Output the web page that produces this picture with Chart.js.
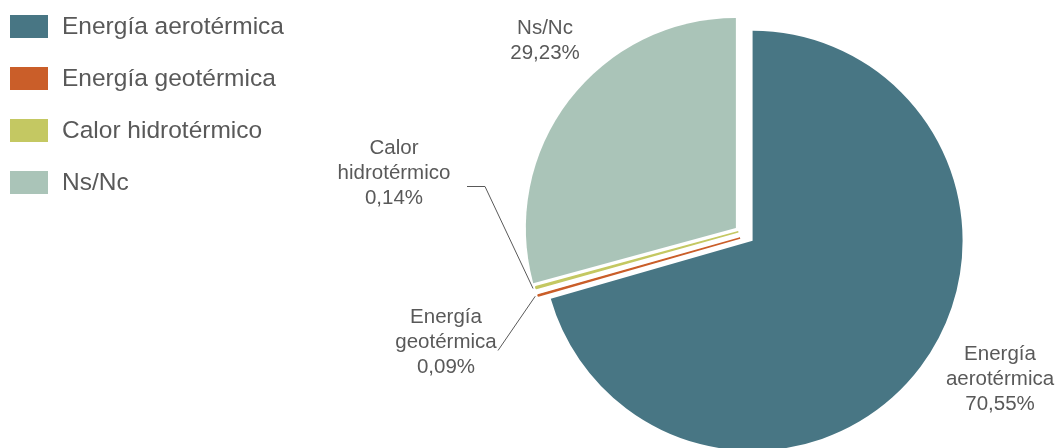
<!DOCTYPE html>
<html>
<head>
<meta charset="utf-8">
<script src="https://cdn.jsdelivr.net/npm/chart.js@4/dist/chart.umd.min.js"></script>
<style>
  html, body { margin: 0; padding: 0; background: #fff; overflow: hidden; }
  #wrap { width: 1059px; height: 448px; position: relative; }
</style>
</head>
<body>
<div id="wrap"><canvas id="pieChart"></canvas></div>
<script>
const categories = ['Energía aerotérmica', 'Energía geotérmica', 'Calor hidrotérmico', 'Ns/Nc'];
const shares = [70.55, 0.09, 0.14, 29.23];
const sliceColors = ['#487684', '#CA5E29', '#C4C862', '#AAC4B8'];

// how far each slice is pulled out of the pie (px), and a small sideways nudge
const explode = [12, 4, 4, 9];
const nudge = [0, -3.5, 3, 0];
// thin slices get an outline in their own colour so they stay visible
const outline = [0, 1.5, 1.5, 0];
// first baseline of each label block, relative to the pie centre
const labelPos = [[257, 126], [-297, 89], [-349, -80], [-198, -200]];
// leader line points (relative to centre) before it runs to the slice
const leaders = [null, [[-245, 117]], [[-276, -47], [-258, -47]], null];

const textColor = '#595959';
const fontFamily = '"Liberation Sans", Arial, sans-serif';

function fmtPct(v) {
  return v.toFixed(2).replace('.', ',') + '%';
}

function sliceShift(arc, i) {
  const mid = (arc.startAngle + arc.endAngle) / 2;
  const e = explode[i] || 0, n = nudge[i] || 0;
  return {
    mid,
    x: Math.cos(mid) * e - Math.sin(mid) * n,
    y: Math.sin(mid) * e + Math.cos(mid) * n
  };
}

// draw slices pulled out along their mid angle
const explodePlugin = {
  id: 'explode',
  beforeDatasetDraw(chart, args) {
    const ctx = chart.ctx;
    const meta = chart.getDatasetMeta(args.index);
    meta.data.forEach((arc, i) => {
      const s = sliceShift(arc, i);
      ctx.save();
      ctx.translate(s.x, s.y);
      arc.draw(ctx);
      ctx.restore();
    });
    return false;
  }
};

const sliceLabels = {
  id: 'sliceLabels',
  afterDatasetsDraw(chart) {
    const ctx = chart.ctx;
    const meta = chart.getDatasetMeta(0);
    ctx.save();
    ctx.font = '20.5px ' + fontFamily;
    ctx.fillStyle = textColor;
    ctx.strokeStyle = textColor;
    ctx.lineWidth = 1;
    ctx.textAlign = 'center';
    ctx.textBaseline = 'alphabetic';
    meta.data.forEach((arc, i) => {
      const cx = arc.x, cy = arc.y;
      const lines = categories[i].split(' ');
      lines.push(fmtPct(shares[i]));
      const [dx, dy] = labelPos[i];
      lines.forEach((t, k) => ctx.fillText(t, cx + dx, cy + dy + k * 25));

      if (leaders[i]) {
        const s = sliceShift(arc, i);
        const r = arc.outerRadius + 3;
        ctx.beginPath();
        leaders[i].forEach(([px, py], k) => {
          if (k === 0) ctx.moveTo(cx + px, cy + py);
          else ctx.lineTo(cx + px, cy + py);
        });
        ctx.lineTo(cx + s.x + Math.cos(s.mid) * r, cy + s.y + Math.sin(s.mid) * r);
        ctx.stroke();
      }
    });
    ctx.restore();
  }
};

const sideLegend = {
  id: 'sideLegend',
  afterDraw(chart) {
    const ctx = chart.ctx;
    ctx.save();
    ctx.font = '24.5px ' + fontFamily;
    ctx.textAlign = 'left';
    ctx.textBaseline = 'middle';
    categories.forEach((name, i) => {
      const top = 15 + i * 52;
      ctx.fillStyle = sliceColors[i];
      ctx.fillRect(10, top, 38, 23);
      ctx.fillStyle = textColor;
      ctx.fillText(name, 62, top + 12);
    });
    ctx.restore();
  }
};

const ctx = document.getElementById('pieChart').getContext('2d');
new Chart(ctx, {
  type: 'pie',
  data: {
    labels: categories,
    datasets: [{
      data: shares,
      backgroundColor: sliceColors,
      borderColor: sliceColors,
      borderWidth: outline
    }]
  },
  options: {
    responsive: true,
    maintainAspectRatio: false,
    animation: false,
    radius: 210,
    layout: { padding: { left: 427, top: 19, right: 0, bottom: 0 } },
    plugins: {
      legend: { display: false },
      tooltip: { enabled: false }
    }
  },
  plugins: [explodePlugin, sliceLabels, sideLegend]
});
</script>
</body>
</html>
